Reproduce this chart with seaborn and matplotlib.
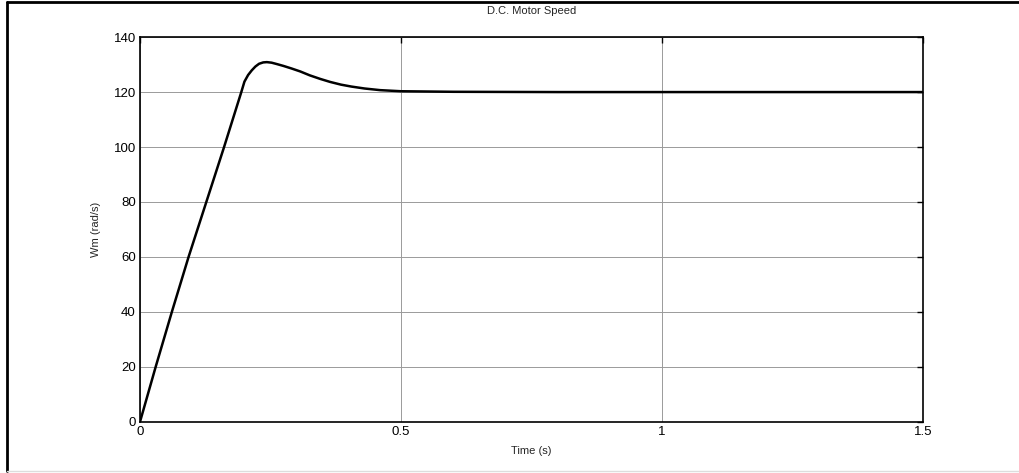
import seaborn as sns
import pandas as pd
import matplotlib.pyplot as plt
from matplotlib.lines import Line2D

# motor speed
time_s = [0, 0.015, 0.03, 0.061, 0.093, 0.127, 0.161, 0.194, 0.200, 0.207, 0.214,
          0.221, 0.228, 0.236, 0.243, 0.252, 0.262, 0.275, 0.290, 0.307, 0.325,
          0.345, 0.364, 0.385, 0.405, 0.43, 0.46, 0.50, 0.6, 0.8, 1.0, 1.2, 1.5]
speed = [0, 10, 20, 40, 60, 80, 100, 120, 123.8, 126.2, 127.9,
         129.3, 130.3, 130.8, 130.9, 130.7, 130.2, 129.5, 128.6, 127.5, 126.1,
         124.8, 123.7, 122.7, 122.0, 121.3, 120.7, 120.3, 120.1, 120.0, 120.0, 120.0, 120.0]
xticks = [0, 0.5, 1, 1.5]
yticks = [0, 20, 40, 60, 80, 100, 120, 140]

df = pd.DataFrame({"Time (s)": time_s, "Wm (rad/s)": speed})

sns.set_style("white")
plt.rcParams['font.family'] = ['Liberation Sans', 'DejaVu Sans']

fig = plt.figure(figsize=(10.2, 4.73), dpi=100)
ax = fig.add_axes([0.1373, 0.1085, 0.7676, 0.8130])
sns.lineplot(data=df, x="Time (s)", y="Wm (rad/s)", color="black", linewidth=1.8, ax=ax)

ax.set_xlim(0, 1.5)
ax.set_ylim(0, 140)
ax.set_xticks(xticks)
ax.set_xticklabels(["0", "0.5", "1", "1.5"])
ax.set_yticks(yticks)
ax.grid(True, color="#9a9a9a", linewidth=0.7)
ax.tick_params(direction="in", length=4, width=1, top=True, right=True,
               labelsize=9.5, colors="black", pad=3)
for s in ax.spines.values():
    s.set_color("black")
    s.set_linewidth(1.2)

ax.set_title("D.C. Motor Speed", fontsize=8, pad=17)
ax.set_xlabel("Time (s)", fontsize=8, labelpad=6)
ax.set_ylabel("Wm (rad/s)", fontsize=8, labelpad=9)

# outer frame of the figure
fig.add_artist(Line2D([0.007, 0.007], [0.004, 0.996], color="black", linewidth=2, transform=fig.transFigure))
fig.add_artist(Line2D([0.007, 1.0], [0.996, 0.996], color="black", linewidth=2, transform=fig.transFigure))
fig.add_artist(Line2D([0.007, 1.0], [0.004, 0.004], color="#dddddd", linewidth=1, transform=fig.transFigure))

plt.savefig("out.png", dpi=100)
